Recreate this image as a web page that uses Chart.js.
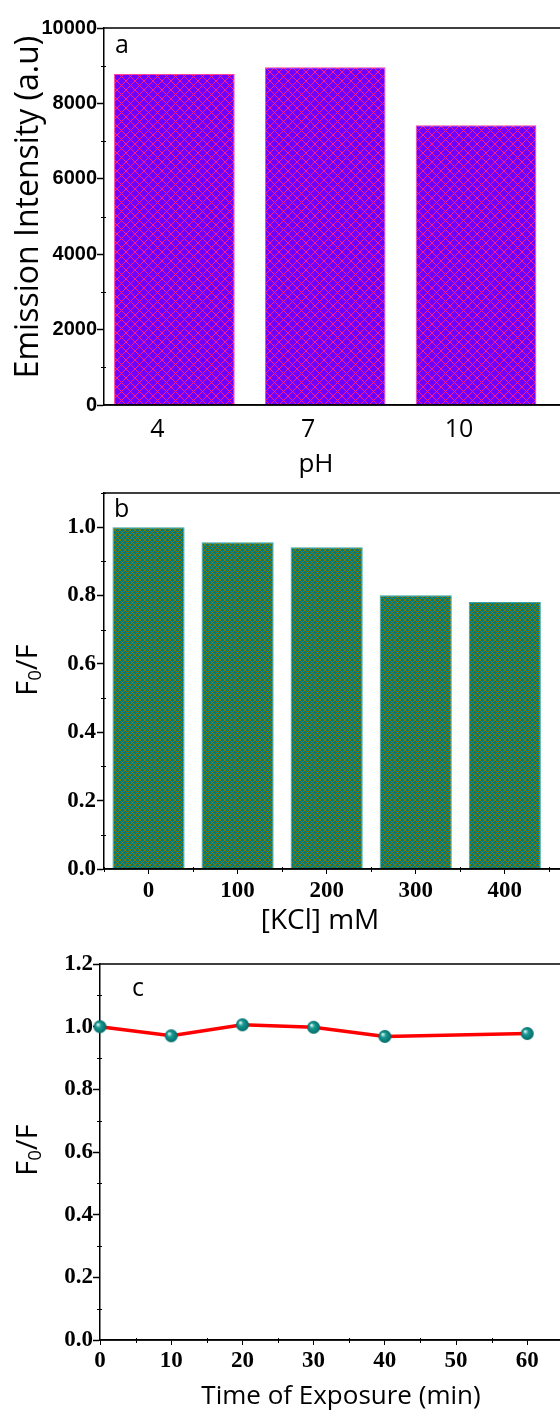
<!DOCTYPE html>
<html>
<head>
<meta charset="utf-8">
<script src="https://cdn.jsdelivr.net/npm/chart.js@4/dist/chart.umd.min.js"></script>
<style>
    body { margin: 0; background: #fff; }
    canvas.panel { position: absolute; left: 0; }
</style>
</head>
<body>
<canvas id="chartA" class="panel" width="560" height="480" style="top:0px"></canvas>
<canvas id="chartB" class="panel" width="560" height="460" style="top:480px"></canvas>
<canvas id="chartC" class="panel" width="560" height="477" style="top:940px"></canvas>
<script>
// panel a - pH
const phValues = [4, 7, 10];
const emission = [8780, 8960, 7420];
const emissionTicks = [0, 2000, 4000, 6000, 8000, 10000];

// panel b - KCl
const kclConc = [0, 100, 200, 300, 400];
const kclRatio = [1.0, 0.956, 0.941, 0.801, 0.781];
const ratioTicksB = [0, 0.2, 0.4, 0.6, 0.8, 1.0];

// panel c - exposure time
const exposureTime = [0, 10, 20, 30, 40, 60];
const exposureRatio = [1.0, 0.971, 1.006, 0.998, 0.969, 0.978];
const timeTicks = [0, 10, 20, 30, 40, 50, 60];
const ratioTicksC = [0, 0.2, 0.4, 0.6, 0.8, 1.0, 1.2];

const titleFont = '"Open Sans"';
const sansBold = { family: 'Liberation Sans', size: 20, weight: 'bold' };
const serifBold = { family: 'Liberation Serif', size: 23, weight: 'bold' };

function hatch(base, line, size, lw) {
    const c = document.createElement('canvas');
    c.width = c.height = size;
    const g = c.getContext('2d');
    g.fillStyle = base;
    g.fillRect(0, 0, size, size);
    g.strokeStyle = line;
    g.lineWidth = lw;
    g.beginPath();
    g.moveTo(0, 0); g.lineTo(size, size);
    g.moveTo(size, 0); g.lineTo(0, size);
    g.stroke();
    return g.createPattern(c, 'repeat');
}

function sphere(r) {
    const c = document.createElement('canvas');
    c.width = c.height = r * 2 + 2;
    const g = c.getContext('2d');
    const m = r + 1;
    const grad = g.createRadialGradient(m - r * 0.35, m - r * 0.35, 0.5, m, m, r);
    grad.addColorStop(0, '#d8f4f0');
    grad.addColorStop(0.35, '#1a9a94');
    grad.addColorStop(1, '#006a66');
    g.fillStyle = grad;
    g.beginPath();
    g.arc(m, m, r, 0, Math.PI * 2);
    g.fill();
    return c;
}

const setTicks = list => scale => { scale.ticks = list.map(v => ({ value: v })); };

// fixed axis box, and no extra room asked for the end labels
const fixX = h => s => { s.height = h; s.paddingLeft = 0; s.paddingRight = 0; };
const fixY = w => s => { s.width = w; s.paddingTop = 0; s.paddingBottom = 0; };

// text pieces, a piece with sub:true is drawn small and lowered
function drawRich(ctx, parts, size) {
    const widths = parts.map(p => {
        ctx.font = (p.sub ? size * 0.65 : size) + 'px ' + titleFont;
        return ctx.measureText(p.t).width;
    });
    let x = -widths.reduce((a, b) => a + b, 0) / 2;
    parts.forEach((p, i) => {
        ctx.font = (p.sub ? size * 0.65 : size) + 'px ' + titleFont;
        ctx.fillText(p.t, x, p.sub ? size * 0.22 : 0);
        x += widths[i];
    });
}

// top and bottom frame lines, minor ticks, panel letter and axis titles
const frame = {
    id: 'frame',
    afterDraw(chart, args, opts) {
        const { ctx, chartArea: a } = chart;
        ctx.save();
        ctx.strokeStyle = '#000';
        ctx.lineWidth = 1.5;
        ctx.beginPath();
        ctx.moveTo(a.left, a.top);
        ctx.lineTo(chart.width, a.top);
        ctx.moveTo(a.left, a.bottom);
        ctx.lineTo(chart.width, a.bottom);
        ctx.stroke();

        ctx.lineWidth = 1;
        (opts.minor || []).forEach(([id, step, major]) => {
            const s = chart.scales[id];
            const start = Math.ceil(s.min / step);
            for (let k = start; k * step <= s.max + 1e-9; k++) {
                const v = k * step;
                const r = v / major;
                if (Math.abs(r - Math.round(r)) < 1e-6) continue;
                const p = Math.round(s.getPixelForValue(v)) + 0.5;
                ctx.beginPath();
                if (id === 'x') { ctx.moveTo(p, a.bottom - 2); ctx.lineTo(p, a.bottom + 3); }
                else { ctx.moveTo(a.left - 3, p); ctx.lineTo(a.left + 2, p); }
                ctx.stroke();
            }
        });

        ctx.fillStyle = '#000';
        ctx.font = '25px ' + titleFont;
        ctx.fillText(opts.letter, opts.lx, opts.ly);

        ctx.textBaseline = 'middle';
        ctx.textAlign = 'left';
        (opts.titles || []).forEach(t => {
            ctx.save();
            ctx.translate(t.x, t.y);
            if (t.rot) ctx.rotate(-Math.PI / 2);
            drawRich(ctx, t.parts, t.size);
            ctx.restore();
        });
        ctx.restore();
    }
};

const base = {
    responsive: false,
    animation: false,
    events: [],
    plugins: { legend: { display: false }, tooltip: { enabled: false } }
};

// ---------- panel a ----------
new Chart(document.getElementById('chartA'), {
    type: 'bar',
    data: {
        datasets: [{
            data: phValues.map((p, i) => ({ x: p, y: emission[i] })),
            backgroundColor: hatch('#6e00ff', '#ff1a8c', 9, 1),
            borderColor: '#ff3fa0',
            borderWidth: 1,
            categoryPercentage: 1.0,
            barPercentage: 0.8
        }]
    },
    options: {
        ...base,
        layout: { autoPadding: false, padding: { top: 28, right: 0, left: 0, bottom: 0 } },
        plugins: {
            ...base.plugins,
            frame: {
                letter: 'a', lx: 115, ly: 53, minor: [['y', 1000, 2000]],
                titles: [
                    { parts: [{ t: 'Emission Intensity (a.u)' }], x: 29, y: 207, size: 32, rot: true },
                    { parts: [{ t: 'pH' }], x: 316, y: 465, size: 26 }
                ]
            }
        },
        scales: {
            x: {
                type: 'linear', min: 2.6, max: 11.67, offset: false,
                afterBuildTicks: setTicks(phValues),
                afterFit: fixX(75),
                grid: { display: false, drawTicks: false, offset: false },
                border: { display: true, color: '#000', width: 1.5 },
                ticks: { color: '#000', font: { family: titleFont, size: 25 }, padding: 10, labelOffset: -17 }
            },
            y: {
                min: 0, max: 10000,
                afterBuildTicks: setTicks(emissionTicks),
                afterFit: fixY(104),
                grid: { drawOnChartArea: false, color: '#000', tickLength: 7, tickWidth: 1.5 },
                border: { display: true, color: '#000', width: 1.5 },
                ticks: { color: '#000', font: sansBold, padding: 0, callback: v => String(v) }
            }
        }
    },
    plugins: [frame]
});

// ---------- panel b ----------
new Chart(document.getElementById('chartB'), {
    type: 'bar',
    data: {
        datasets: [{
            data: kclConc.map((c, i) => ({ x: c, y: kclRatio[i] })),
            backgroundColor: hatch('#007a7a', '#7d7a00', 5, 1),
            borderColor: '#3aa4a4',
            borderWidth: 1,
            categoryPercentage: 0.9,
            barPercentage: 0.9
        }]
    },
    options: {
        ...base,
        layout: { autoPadding: false, padding: { top: 13, right: 0, left: 0, bottom: 0 } },
        plugins: {
            ...base.plugins,
            frame: {
                letter: 'b', lx: 114, ly: 37, minor: [['y', 0.1, 0.2], ['x', 50, 100]],
                titles: [
                    { parts: [{ t: 'F' }, { t: '0', sub: true }, { t: '/F' }], x: 29, y: 190, size: 29, rot: true },
                    { parts: [{ t: '[KCl] mM' }], x: 320, y: 441, size: 28 }
                ]
            }
        },
        scales: {
            x: {
                type: 'linear', min: -50, max: 462, offset: false,
                afterBuildTicks: setTicks(kclConc),
                afterFit: fixX(71),
                grid: { drawOnChartArea: false, color: '#000', tickLength: 5, offset: false },
                border: { display: true, color: '#000', width: 1.5 },
                ticks: { color: '#000', font: serifBold, padding: 3 }
            },
            y: {
                min: 0, max: 1.1,
                afterBuildTicks: setTicks(ratioTicksB),
                afterFit: fixY(104),
                grid: { drawOnChartArea: false, color: '#000', tickLength: 7, tickWidth: 1.5 },
                border: { display: true, color: '#000', width: 1.5 },
                ticks: { color: '#000', font: serifBold, padding: 1, callback: v => v.toFixed(1) }
            }
        }
    },
    plugins: [frame]
});

// ---------- panel c ----------
new Chart(document.getElementById('chartC'), {
    type: 'line',
    data: {
        datasets: [{
            data: exposureTime.map((t, i) => ({ x: t, y: exposureRatio[i] })),
            borderColor: '#ff0000',
            borderWidth: 3.5,
            pointStyle: sphere(6.5),
            pointRadius: 7,
            tension: 0,
            clip: false
        }]
    },
    options: {
        ...base,
        layout: { autoPadding: false, padding: { top: 24, right: 0, left: 0, bottom: 0 } },
        plugins: {
            ...base.plugins,
            frame: {
                letter: 'c', lx: 132, ly: 56, minor: [['y', 0.1, 0.2], ['x', 5, 10]],
                titles: [
                    { parts: [{ t: 'F' }, { t: '0', sub: true }, { t: '/F' }], x: 29, y: 210, size: 29, rot: true },
                    { parts: [{ t: 'Time of Exposure (min)' }], x: 341, y: 457, size: 26 }
                ]
            }
        },
        scales: {
            x: {
                type: 'linear', min: 0, max: 64.6,
                afterBuildTicks: setTicks(timeTicks),
                afterFit: fixX(77),
                grid: { drawOnChartArea: false, color: '#000', tickLength: 5 },
                border: { display: true, color: '#000', width: 1.5 },
                ticks: { color: '#000', font: serifBold, padding: 2 }
            },
            y: {
                min: 0, max: 1.2,
                afterBuildTicks: setTicks(ratioTicksC),
                afterFit: fixY(100),
                grid: { drawOnChartArea: false, color: '#000', tickLength: 7, tickWidth: 1.5 },
                border: { display: true, color: '#000', width: 1.5 },
                ticks: { color: '#000', font: serifBold, padding: 0, callback: v => v.toFixed(1) }
            }
        }
    },
    plugins: [frame]
});
</script>
</body>
</html>
